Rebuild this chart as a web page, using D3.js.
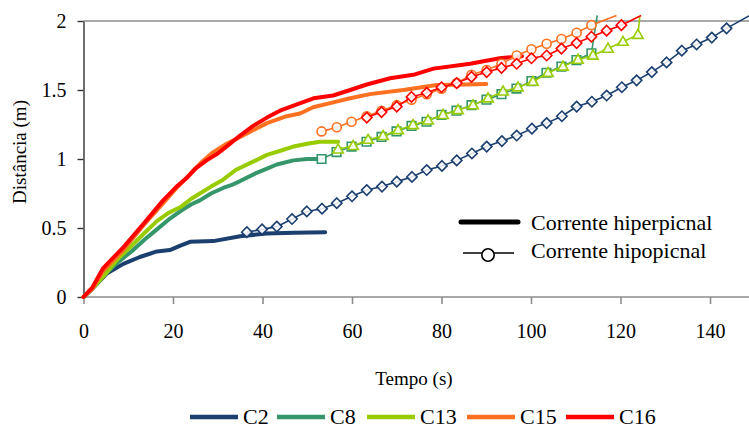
<!DOCTYPE html>
<html>
<head>
<meta charset="utf-8">
<script src="https://cdn.jsdelivr.net/npm/d3@7"></script>
<style>
  html, body { margin: 0; padding: 0; background: #fff; }
  svg { display: block; font-family: "Liberation Serif", "Times New Roman", serif; }
</style>
</head>
<body>
<svg id="chart" width="749" height="430"></svg>
<script>
// Front position (m) against time (s) for each test.
// Hyperpycnal currents: thick lines without markers.
const c2Hyper = [[0,0],[2,0.06],[5.2,0.17],[8.9,0.24],[12.6,0.29],[16.4,0.33],[19.3,0.34],[21.5,0.37],[23.8,0.40],[29,0.405],[35,0.44],[40.9,0.46],[47,0.465],[54,0.47]];
const c8Hyper = [[0,0],[2.5,0.08],[5,0.17],[8,0.26],[11.1,0.34],[13.8,0.42],[16.4,0.49],[19,0.56],[21.6,0.62],[24,0.67],[26,0.70],[28.5,0.75],[31.2,0.79],[33,0.81],[35,0.84],[38.7,0.90],[41,0.93],[43.2,0.96],[46.9,0.99],[50,1.0],[52.5,1.0]];
const c13Hyper = [[0,0],[2.5,0.08],[5,0.17],[7.5,0.27],[10.4,0.36],[13.5,0.46],[16.4,0.55],[19,0.61],[21.6,0.65],[24,0.71],[26,0.75],[28.5,0.80],[31.2,0.85],[34,0.92],[37.2,0.97],[41,1.03],[44,1.06],[46.9,1.09],[50,1.11],[52.8,1.125],[56.9,1.125]];
const c15Hyper = [[0,0],[2,0.06],[4.4,0.19],[8.9,0.34],[13.4,0.52],[17.8,0.68],[20.8,0.79],[23.8,0.89],[26.5,0.98],[29,1.05],[32,1.11],[35,1.16],[38,1.21],[41,1.26],[45.4,1.31],[48.4,1.33],[51.3,1.375],[55.8,1.41],[59.6,1.44],[64,1.47],[71.5,1.50],[78.9,1.536],[85,1.54],[90,1.543]];
const c16Hyper = [[0,0],[2,0.07],[4.4,0.21],[8.9,0.36],[13.4,0.53],[17.8,0.70],[20.8,0.80],[23,0.86],[25,0.93],[27.5,0.99],[30,1.04],[32.7,1.11],[35,1.17],[37.9,1.24],[41,1.30],[43.9,1.35],[48,1.40],[51.4,1.44],[55.8,1.46],[59.6,1.50],[63.3,1.54],[68.5,1.585],[73.7,1.61],[78.2,1.655],[86.4,1.69],[93,1.73],[98,1.745]];

// Hypopycnal currents: thin lines with a marker at every sample.
const c2Hypo = [[36.5,0.47],[39.9,0.49],[43.2,0.51],[46.6,0.565],[49.9,0.62],[53.3,0.64],[56.6,0.68],[60.0,0.73],[63.3,0.775],[66.7,0.80],[70.0,0.836],[73.4,0.87],[76.7,0.92],[80.1,0.95],[83.4,0.99],[86.8,1.04],[90.1,1.09],[93.5,1.13],[96.8,1.17],[100.2,1.22],[103.5,1.26],[106.9,1.31],[110.2,1.38],[113.6,1.415],[116.9,1.46],[120.3,1.52],[123.6,1.57],[127.0,1.63],[130.3,1.70],[133.7,1.785],[137.0,1.83],[140.4,1.88],[143.7,1.947]];
const c8Hypo = [[53.2,1.0],[56.55,1.05],[59.9,1.09],[63.25,1.125],[66.6,1.16],[69.95,1.20],[73.3,1.24],[76.65,1.27],[80.0,1.32],[83.35,1.35],[86.7,1.39],[90.05,1.43],[93.4,1.47],[96.75,1.51],[100.1,1.565],[103.45,1.625],[106.8,1.67],[110.15,1.717],[113.5,1.766]];
const c13Hypo = [[56.9,1.07],[60.25,1.095],[63.6,1.14],[66.95,1.167],[70.3,1.21],[73.65,1.246],[77.0,1.28],[80.35,1.32],[83.7,1.355],[87.05,1.39],[90.4,1.44],[93.75,1.49],[97.1,1.52],[100.45,1.56],[103.8,1.625],[107.15,1.67],[110.5,1.72],[113.85,1.75],[117.2,1.80],[120.55,1.85],[123.9,1.90]];
const c15Hypo = [[53.2,1.20],[56.6,1.23],[59.9,1.27],[63.3,1.31],[66.6,1.35],[70.0,1.39],[73.3,1.43],[76.7,1.47],[80.0,1.51],[83.4,1.55],[86.7,1.61],[90.1,1.645],[93.4,1.69],[96.8,1.75],[100.1,1.795],[103.5,1.835],[106.8,1.87],[110.2,1.915],[113.5,1.97]];
const c16Hypo = [[63.3,1.30],[66.6,1.34],[70.0,1.38],[73.3,1.45],[76.7,1.48],[80.0,1.52],[83.4,1.55],[86.7,1.595],[90.1,1.63],[93.4,1.66],[96.8,1.69],[100.1,1.73],[103.5,1.75],[106.8,1.80],[110.2,1.84],[113.5,1.886],[116.9,1.93],[120.2,1.97]];

// Last recorded position of each hypopycnal front (line only, no marker).
const c2HypoEnd = [150.5, 2.07];
const c8HypoEnd = [114.8, 2.04];
const c13HypoEnd = [124.3, 2.03];
const c15HypoEnd = [119.1, 2.04];
const c16HypoEnd = [124.6, 2.04];

const seriesNames = ["C2", "C8", "C13", "C15", "C16"];
const seriesColors = ["#1b3f6f", "#34966a", "#99cc00", "#ff7020", "#ff0000"];
const markerShapes = ["diamond", "square", "triangle", "circle", "diamond"];

const xTicks = [0, 20, 40, 60, 80, 100, 120, 140];
const yTicks = [0, 0.5, 1, 1.5, 2];
const xTitle = "Tempo (s)";
const yTitle = "Distância (m)";
const styleLabels = ["Corrente hiperpicnal", "Corrente hipopicnal"];

const hyper = [c2Hyper, c8Hyper, c13Hyper, c15Hyper, c16Hyper];
const hypo = [c2Hypo, c8Hypo, c13Hypo, c15Hypo, c16Hypo];
const hypoEnds = [c2HypoEnd, c8HypoEnd, c13HypoEnd, c15HypoEnd, c16HypoEnd];

const svg = d3.select("#chart");
const plotLeft = 83.5, plotTop = 21, plotBottom = 297;

const x = d3.scaleLinear().domain([0, 150]).range([plotLeft, plotLeft + 150 * 4.475]);
const y = d3.scaleLinear().domain([0, 2]).range([plotBottom, plotTop]);

// Plot frame: top border and axes
svg.append("line")
  .attr("x1", plotLeft).attr("x2", 749).attr("y1", y(2)).attr("y2", y(2))
  .attr("stroke", "#8c8c8c").attr("stroke-width", 1.6);

const xAxis = svg.append("g")
  .attr("transform", `translate(0,${plotBottom})`)
  .call(d3.axisBottom(x).tickValues(xTicks).tickSize(7).tickSizeOuter(0).tickPadding(20));
xAxis.select(".domain").attr("stroke", "#8c8c8c").attr("stroke-width", 1.6)
  .attr("d", `M${plotLeft},0H749`);
xAxis.selectAll(".tick line").attr("stroke", "#8c8c8c").attr("stroke-width", 1.6);
xAxis.selectAll(".tick text").attr("font-size", 20).attr("fill", "#000")
  .attr("font-family", "Liberation Serif");

const yAxis = svg.append("g")
  .attr("transform", `translate(${plotLeft},0)`)
  .call(d3.axisLeft(y).tickValues(yTicks).tickSize(6).tickSizeOuter(0).tickPadding(11)
    .tickFormat(d => String(d)));
yAxis.select(".domain").attr("stroke", "#333").attr("stroke-width", 1.4);
yAxis.selectAll(".tick line").attr("stroke", "#333").attr("stroke-width", 1.4);
yAxis.selectAll(".tick text").attr("font-size", 20).attr("fill", "#000")
  .attr("font-family", "Liberation Serif");

// Axis titles
svg.append("text")
  .attr("x", 414).attr("y", 385)
  .attr("text-anchor", "middle").attr("font-size", 19).text(xTitle);
svg.append("text")
  .attr("transform", `translate(26,${(plotTop + plotBottom) / 2 - 7}) rotate(-90)`)
  .attr("text-anchor", "middle").attr("font-size", 19).text(yTitle);

const line = d3.line().x(d => x(d[0])).y(d => y(d[1]));

function markerPath(shape) {
  switch (shape) {
    case "diamond": return "M0,-5.2L5.2,0L0,5.2L-5.2,0Z";
    case "square": return "M-4.3,-4.3H4.3V4.3H-4.3Z";
    case "triangle": return "M0,-5.4L5.2,3.6H-5.2Z";
    default: return d3.symbol(d3.symbolCircle, 64)();
  }
}

// Hyperpycnal curves
hyper.forEach((data, i) => {
  svg.append("path").datum(data)
    .attr("d", line).attr("fill", "none")
    .attr("stroke", seriesColors[i]).attr("stroke-width", 4)
    .attr("stroke-linejoin", "round").attr("stroke-linecap", "round");
});

// Hypopycnal curves with markers
hypo.forEach((data, i) => {
  const g = svg.append("g");
  g.append("path").datum(data.concat([hypoEnds[i]]))
    .attr("d", line).attr("fill", "none")
    .attr("stroke", seriesColors[i]).attr("stroke-width", 1.6);
  g.selectAll("path.mk").data(data).join("path")
    .attr("class", "mk")
    .attr("transform", d => `translate(${x(d[0])},${y(d[1])})`)
    .attr("d", markerPath(markerShapes[i]))
    .attr("fill", "#fff").attr("fill-opacity", 0.85)
    .attr("stroke", seriesColors[i]).attr("stroke-width", 1.6);
});

// Line-style key (inside plot)
const key = svg.append("g");
key.append("line").attr("x1", 461).attr("x2", 518).attr("y1", 222).attr("y2", 222)
  .attr("stroke", "#000").attr("stroke-width", 5).attr("stroke-linecap", "round");
key.append("text").attr("x", 531).attr("y", 230).attr("font-size", 22).text(styleLabels[0]);
key.append("line").attr("x1", 463).attr("x2", 514).attr("y1", 253).attr("y2", 253)
  .attr("stroke", "#000").attr("stroke-width", 1.6);
key.append("circle").attr("cx", 488).attr("cy", 255).attr("r", 6.2)
  .attr("fill", "#fff").attr("stroke", "#000").attr("stroke-width", 1.6);
key.append("text").attr("x", 531).attr("y", 258).attr("font-size", 22).text(styleLabels[1]);

// Series legend along the bottom
const legendX = [190, 277, 367, 467, 566];
const legend = svg.append("g");
seriesNames.forEach((name, i) => {
  legend.append("line")
    .attr("x1", legendX[i]).attr("x2", legendX[i] + 48).attr("y1", 417).attr("y2", 417)
    .attr("stroke", seriesColors[i]).attr("stroke-width", 4.5);
  legend.append("text").attr("x", legendX[i] + 53).attr("y", 424)
    .attr("font-size", 22).text(name);
});
</script>
</body>
</html>
